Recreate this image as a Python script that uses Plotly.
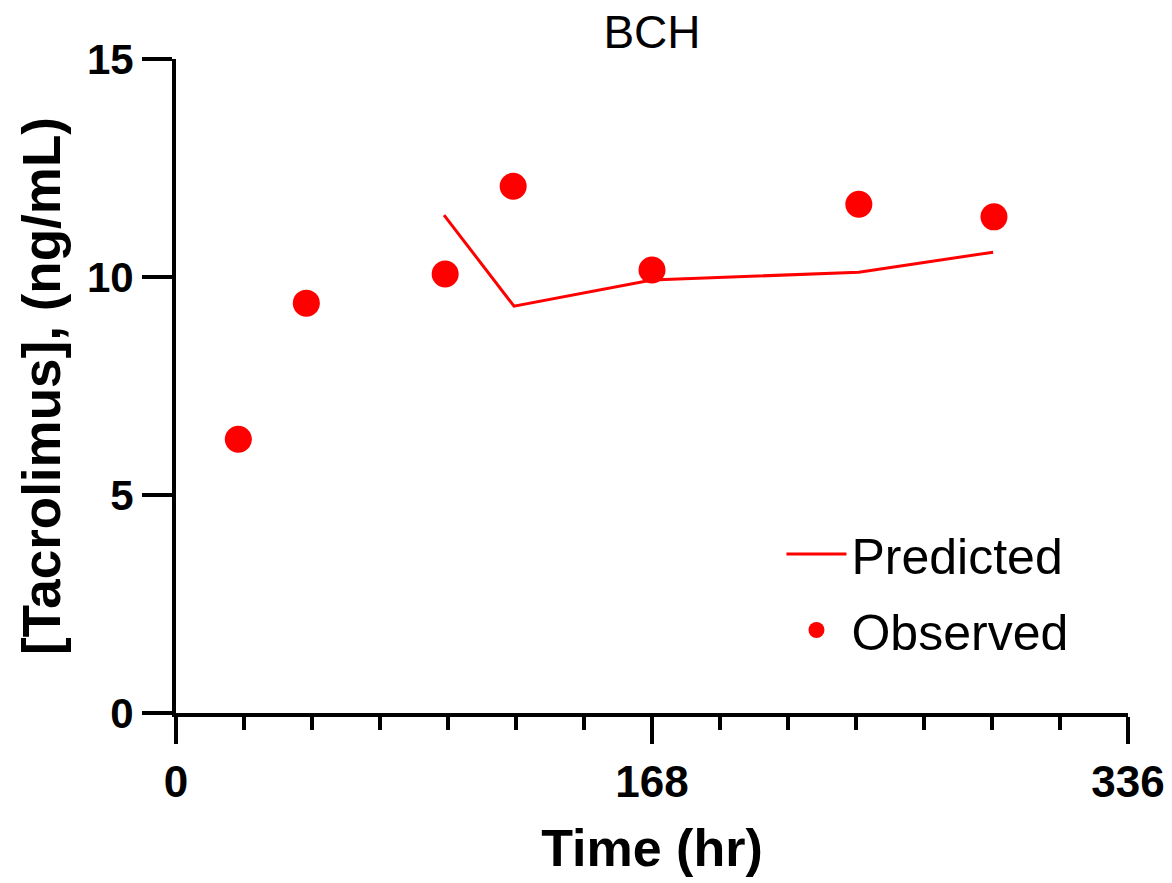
import plotly.graph_objects as go

# Data
obs_time = [22, 46, 95, 119, 168, 241, 288.7]
obs_conc = [6.28, 9.40, 10.07, 12.08, 10.16, 11.67, 11.38]

pred_time = [94.6, 119.3, 168, 241, 288.4]
pred_conc = [11.42, 9.33, 9.93, 10.11, 10.57]

x_major_ticks = [0, 168, 336]
y_major_ticks = [0, 5, 10, 15]

RED = "#ff0000"
FONT = "Liberation Sans, Arial, sans-serif"

fig = go.Figure()
fig.add_trace(go.Scatter(
    x=pred_time, y=pred_conc, mode="lines", name="Predicted",
    line=dict(color=RED, width=3), legendgroup="p",
))
fig.add_trace(go.Scatter(
    x=obs_time, y=obs_conc, mode="markers", name="Observed",
    marker=dict(color=RED, size=27, line=dict(width=0)), legendgroup="o",
))

fig.update_layout(
    width=1172, height=883,
    margin=dict(l=176, r=44, t=59, b=170, autoexpand=False),
    paper_bgcolor="white", plot_bgcolor="white",
    font=dict(family=FONT, color="black"),
    title=dict(text="BCH", x=0.5563, xanchor="center", y=0.982, yanchor="top",
               font=dict(size=46, family=FONT, color="black")),
    showlegend=True,
    legend=dict(x=0.636, y=0.185, xanchor="left", yanchor="middle",
                font=dict(size=50, family=FONT, color="black"),
                bgcolor="rgba(0,0,0,0)", tracegroupgap=8, itemwidth=60),
)

fig.update_xaxes(
    range=[0, 336], tickvals=x_major_ticks, ticktext=[str(v) for v in x_major_ticks],
    showline=True, linecolor="black", linewidth=4,
    ticks="outside", ticklen=27, tickwidth=4, tickcolor="black",
    minor=dict(dtick=24, tick0=0, ticks="outside", ticklen=13, tickwidth=4, tickcolor="black", showgrid=False),
    showgrid=False, zeroline=False, automargin=False,
    tickfont=dict(size=44, family=FONT, color="black", weight="bold"),
    title=dict(text="<b>Time (hr)</b>", font=dict(size=52, family=FONT, color="black"), standoff=26),
)
fig.update_yaxes(
    range=[0, 15], tickvals=y_major_ticks, ticktext=[str(v) for v in y_major_ticks],
    showline=True, linecolor="black", linewidth=4,
    ticks="outside", ticklen=30, tickwidth=4, tickcolor="black",
    showgrid=False, zeroline=False, automargin=False,
    tickfont=dict(size=42, family=FONT, color="black", weight="bold"),
    title=dict(text="<b>[Tacrolimus], (ng/mL)</b>", font=dict(size=53, family=FONT, color="black"), standoff=10),
)

fig.write_html("out.html")
